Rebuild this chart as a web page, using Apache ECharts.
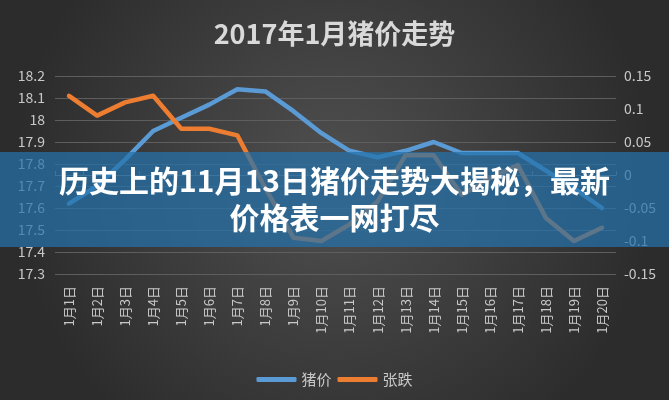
<!DOCTYPE html>
<html>
<head>
<meta charset="utf-8">
<script src="https://cdn.jsdelivr.net/npm/echarts@6/dist/echarts.min.js"></script>
<style>html,body{margin:0;padding:0;background:#333;}#c{width:669px;height:400px;}</style>
</head>
<body>
<div id="c"></div>
<script>
const categories = ['1月1日','1月2日','1月3日','1月4日','1月5日','1月6日','1月7日','1月8日','1月9日','1月10日','1月11日','1月12日','1月13日','1月14日','1月15日','1月16日','1月17日','1月18日','1月19日','1月20日'];
const price = [17.62,17.70,17.82,17.95,18.01,18.07,18.14,18.13,18.04,17.94,17.86,17.83,17.86,17.90,17.85,17.85,17.85,17.77,17.69,17.60];
const change = [0.12,0.09,0.11,0.12,0.07,0.07,0.06,-0.02,-0.095,-0.10,-0.075,-0.04,0.03,0.03,-0.03,-0.005,0.015,-0.065,-0.10,-0.08];
const titleText = '2017年1月猪价走势';
const bannerLines = ['历史上的11月13日猪价走势大揭秘，最新', '价格表一网打尽'];
const seriesNames = ['猪价', '张跌'];

const font = '"Noto Sans CJK SC", "Liberation Sans", sans-serif';
const chart = echarts.init(document.getElementById('c'), null, {renderer: 'canvas'});
chart.setOption({
  animation: false,
  textStyle: {fontFamily: font},
  graphic: [
    {type: 'rect', z: -100, silent: true, shape: {x: 0, y: 0, width: 669, height: 400},
     style: {fill: {type: 'radial', x: 0.5, y: 0.45, r: 0.8,
       colorStops: [{offset: 0, color: '#505050'}, {offset: 1, color: '#2c2c2c'}]}}},
    {type: 'rect', z: 100, silent: true, shape: {x: 0, y: 152, width: 669, height: 95},
     style: {fill: 'rgba(36,114,172,0.72)'}},
    {type: 'text', z: 101, silent: true, left: 'center', top: 162,
     style: {text: bannerLines.join('\n'), fill: '#ffffff', font: 'bold 30px "Noto Sans CJK SC"',
       textAlign: 'center', lineHeight: 37}}
  ],
  title: {text: titleText, left: 'center', top: 15,
    textStyle: {color: '#d9d9d9', fontSize: 27, fontWeight: 'bold', fontFamily: font}},
  legend: {bottom: 8, left: 'center', itemWidth: 40, itemHeight: 5, itemGap: 6, icon: 'roundRect',
    data: seriesNames, textStyle: {color: '#c8c8c8', fontSize: 15, fontFamily: font}},
  grid: {left: 55, right: 53, top: 76, bottom: 126},
  xAxis: {type: 'category', data: categories, boundaryGap: true,
    axisLine: {lineStyle: {color: '#7a7a7a'}},
    axisTick: {show: true, inside: true, length: 4, lineStyle: {color: '#7a7a7a'}},
    axisLabel: {rotate: 90, color: '#c8c8c8', fontSize: 13, margin: 12, interval: 0}},
  yAxis: [
    {type: 'value', min: 17.3, max: 18.2, interval: 0.1, position: 'left',
     axisLine: {show: false}, axisTick: {show: false},
     splitLine: {lineStyle: {color: '#5e5e5e', width: 1}},
     axisLabel: {color: '#c8c8c8', fontSize: 14, margin: 10,
       formatter: v => String(Math.round(v * 10) / 10)}},
    {type: 'value', min: -0.15, max: 0.15, interval: 0.05, position: 'right',
     axisLine: {show: false}, axisTick: {show: false}, splitLine: {show: false},
     axisLabel: {color: '#c8c8c8', fontSize: 14, margin: 8,
       formatter: v => String(Math.round(v * 100) / 100)}}
  ],
  series: [
    {name: seriesNames[0], type: 'line', yAxisIndex: 0, data: price, showSymbol: false, symbol: 'none',
     lineStyle: {color: '#5b9bd5', width: 4.5, join: 'round', cap: 'round'}, itemStyle: {color: '#5b9bd5'}},
    {name: seriesNames[1], type: 'line', yAxisIndex: 1, data: change, showSymbol: false, symbol: 'none',
     lineStyle: {color: '#ed7d31', width: 4.5, join: 'round', cap: 'round'}, itemStyle: {color: '#ed7d31'}}
  ]
});
</script>
</body>
</html>
